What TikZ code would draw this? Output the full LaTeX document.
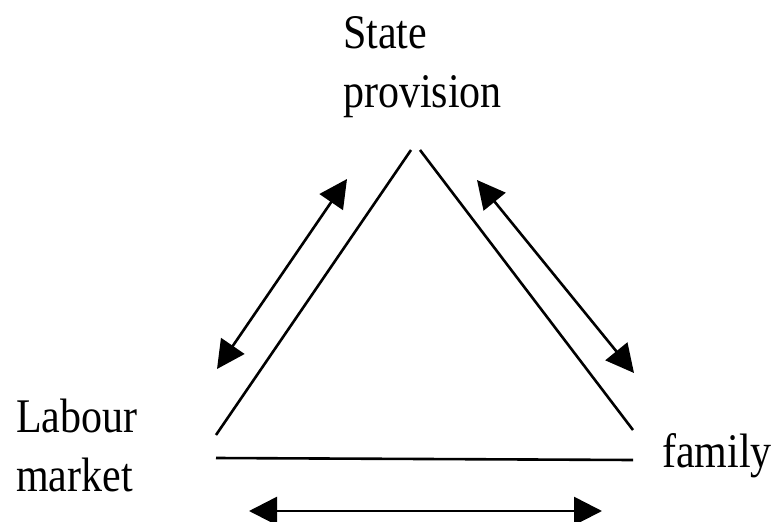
\documentclass[tikz,border=0pt]{standalone}
\usepackage{fontspec}
\setmainfont{Liberation Serif}
\usetikzlibrary{arrows.meta}
\newcommand\tallbox[1]{\scalebox{1}[1.15]{\fontsize{42}{52}\selectfont\begin{tabular}[t]{@{}l@{}}#1\end{tabular}}}
\tikzset{
  side/.style={line width=2.6pt},
  twoway/.style={line width=2.6pt,{Triangle[length=28pt,width=28pt]}-{Triangle[length=28pt,width=28pt]}},
  lab/.style={inner sep=0pt,anchor=base west}
}
\begin{document}
\begin{tikzpicture}[x=1pt,y=-1pt]
\useasboundingbox (0,0) rectangle (774,522);
% labels
\node[lab] (state) at (343,48) {\tallbox{State\\provision}};
\node[lab] (labour) at (16,432) {\tallbox{Labour\\market}};
\node[lab] (family) at (662,467) {\tallbox{family}};
% triangle corners
\coordinate (lt) at (411,150);
\coordinate (lb) at (216,435);
\coordinate (rt) at (420,150);
\coordinate (rb) at (633,430);
\coordinate (bl) at (216,458);
\coordinate (br) at (633,460);
\draw[side] (lt) -- (lb);
\draw[side] (rt) -- (rb);
\draw[side] (bl) -- (br);
% arrows
\coordinate (a1) at (347,179);
\coordinate (a2) at (217,369);
\coordinate (b1) at (477,180);
\coordinate (b2) at (634,373);
\coordinate (c1) at (249,511);
\coordinate (c2) at (602,511);
\draw[twoway] (a1) -- (a2);
\draw[twoway] (b1) -- (b2);
\draw[twoway] (c1) -- (c2);
\end{tikzpicture}
\end{document}
